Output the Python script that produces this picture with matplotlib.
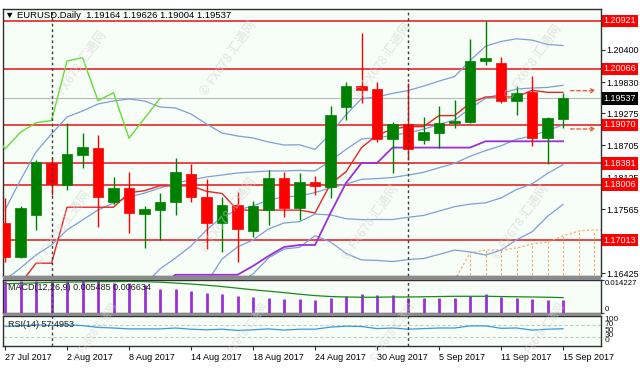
import numpy as np
import matplotlib
matplotlib.use('Agg')
import matplotlib.pyplot as plt
from matplotlib.patches import Rectangle

plt.rcParams['font.family'] = ['Liberation Sans', 'DejaVu Sans']

W, H = 640, 369

# ---- data (EURUSD daily, 27 Jul - 15 Sep 2017) ----
date_labels = ['27 Jul 2017', '2 Aug 2017', '8 Aug 2017', '14 Aug 2017', '18 Aug 2017',
               '24 Aug 2017', '30 Aug 2017', '5 Sep 2017', '11 Sep 2017', '15 Sep 2017']
date_idx = [0, 4, 8, 12, 16, 20, 24, 28, 32, 36]

opens = [1.17317, 1.16716, 1.17464, 1.18384, 1.17998, 1.18531, 1.18661, 1.17690, 1.17939, 1.17481,
         1.17553, 1.17690, 1.18188, 1.17789, 1.17321, 1.17641, 1.17184, 1.17553, 1.18127, 1.17583,
         1.18042, 1.17962, 1.19391, 1.19759, 1.19700, 1.18811, 1.19078, 1.18798, 1.18928, 1.19106,
         1.19124, 1.20209, 1.20163, 1.19498, 1.19658, 1.18829, 1.19164]
highs = [1.17770, 1.17624, 1.18442, 1.18473, 1.19095, 1.18917, 1.18887, 1.18135, 1.18234, 1.17629,
         1.17855, 1.18473, 1.18371, 1.18109, 1.17784, 1.17878, 1.17713, 1.18264, 1.18229, 1.18217,
         1.18158, 1.19403, 1.19836, 1.20697, 1.19836, 1.19124, 1.19812, 1.19213, 1.19403, 1.19510,
         1.20590, 1.20921, 1.20280, 1.19759, 1.19937, 1.19213, 1.19626]
lows = [1.16620, 1.16699, 1.17197, 1.17820, 1.17909, 1.18295, 1.17256, 1.17660, 1.17138, 1.16871,
        1.17019, 1.17464, 1.17695, 1.16853, 1.16805, 1.16628, 1.17072, 1.17286, 1.17428, 1.17375,
        1.17820, 1.17767, 1.19154, 1.19451, 1.18768, 1.18206, 1.18442, 1.18727, 1.18661, 1.19007,
        1.19107, 1.20133, 1.19462, 1.19243, 1.18692, 1.18371, 1.19004]
closes = [1.16720, 1.17588, 1.18401, 1.18010, 1.18544, 1.18679, 1.17789, 1.17939, 1.17494, 1.17570,
          1.17700, 1.18234, 1.17784, 1.17327, 1.17641, 1.17209, 1.17619, 1.18127, 1.17583, 1.18056,
          1.17971, 1.19243, 1.19759, 1.19688, 1.18811, 1.19078, 1.18638, 1.18935, 1.19106, 1.19143,
          1.20204, 1.20263, 1.19498, 1.19640, 1.18829, 1.19184, 1.19537]

# Bollinger bands (20,1) and (20,2)
bb_up2 = [1.17553, 1.18087, 1.18585, 1.18905, 1.19208, 1.19314, 1.19439, 1.19492, 1.19528, 1.19492,
          1.19385, 1.19368, 1.19261, 1.19083, 1.18923, 1.18869, 1.18834, 1.18763, 1.18709, 1.18713,
          1.18631, 1.18908, 1.19248, 1.19532, 1.19567, 1.19627, 1.19678, 1.19757, 1.19846, 1.19927,
          1.20210, 1.20467, 1.20551, 1.20599, 1.20576, 1.20499, 1.20479]
bb_up1 = [1.16307, 1.16521, 1.16752, 1.16930, 1.17197, 1.17375, 1.17553, 1.17677, 1.17784, 1.17855,
          1.17944, 1.18033, 1.18087, 1.18140, 1.18175, 1.18211, 1.18229, 1.18247, 1.18247, 1.18257,
          1.18247, 1.18427, 1.18631, 1.18815, 1.18839, 1.18879, 1.18926, 1.18990, 1.19075, 1.19155,
          1.19359, 1.19538, 1.19623, 1.19705, 1.19723, 1.19734, 1.19772]
bb_mid = [1.15062, 1.14955, 1.14920, 1.14955, 1.15186, 1.15435, 1.15667, 1.15863, 1.16041, 1.16219,
          1.16503, 1.16699, 1.16913, 1.17197, 1.17428, 1.17553, 1.17624, 1.17731, 1.17784, 1.17801,
          1.17863, 1.17946, 1.18014, 1.18098, 1.18111, 1.18131, 1.18174, 1.18223, 1.18304, 1.18383,
          1.18508, 1.18609, 1.18695, 1.18811, 1.18870, 1.18969, 1.19065]
bb_lo1 = [1.13817, 1.13389, 1.13088, 1.12980, 1.13175, 1.13495, 1.13781, 1.14049, 1.14298, 1.14583,
          1.15062, 1.15365, 1.15739, 1.16254, 1.16681, 1.16895, 1.17019, 1.17215, 1.17321, 1.17345,
          1.17479, 1.17465, 1.17397, 1.17381, 1.17383, 1.17383, 1.17422, 1.17456, 1.17533, 1.17611,
          1.17657, 1.17680, 1.17767, 1.17917, 1.18017, 1.18204, 1.18358]
bb_lo2 = [1.12572, 1.11823, 1.11256, 1.11005, 1.11164, 1.11555, 1.11895, 1.12235, 1.12555, 1.12947,
          1.13621, 1.14031, 1.14565, 1.15311, 1.15934, 1.16237, 1.16414, 1.16699, 1.16858, 1.16889,
          1.17095, 1.16984, 1.16780, 1.16664, 1.16655, 1.16635, 1.16670, 1.16689, 1.16762, 1.16839,
          1.16806, 1.16751, 1.16839, 1.17023, 1.17164, 1.17439, 1.17651]

# Ichimoku
tenkan = [1.16100, 1.16240, 1.16606, 1.16606, 1.17602, 1.17602, 1.17602, 1.17602, 1.17858, 1.17897,
          1.17983, 1.17983, 1.17983, 1.17885, 1.17846, 1.17551, 1.17551, 1.17551, 1.17551, 1.17551,
          1.17500, 1.18016, 1.18232, 1.18663, 1.18885, 1.18992, 1.19036, 1.19036, 1.19232, 1.19232,
          1.19452, 1.19564, 1.19564, 1.19564, 1.19682, 1.19646, 1.19646]
kijun = [1.15950, 1.15950, 1.15970, 1.15970, 1.15970, 1.16060, 1.16060, 1.16120, 1.16120, 1.16120,
         1.16200, 1.16400, 1.16400, 1.16400, 1.16400, 1.16400, 1.16556, 1.16734, 1.16894, 1.16930,
         1.16930, 1.17499, 1.18033, 1.18389, 1.18389, 1.18663, 1.18663, 1.18663, 1.18663, 1.18663,
         1.18663, 1.18775, 1.18775, 1.18775, 1.18775, 1.18775, 1.18775]
chikou = [1.19078, 1.18638, 1.18935, 1.19106, 1.19143, 1.20204, 1.20263, 1.19498, 1.19640, 1.18829,
          1.19184, 1.19537]
chikou_start = -1
senkou_a = [1.16303, 1.16787, 1.16840, 1.16840, 1.16876, 1.16947, 1.16983, 1.17090, 1.17179, 1.17197,
            1.17200]
senkou_b = [1.16000, 1.16000, 1.16000, 1.16000, 1.16000, 1.16000, 1.16000, 1.16000, 1.16000, 1.16000,
            1.16000]
senkou_start = 29

levels = [1.20921, 1.20066, 1.19070, 1.18381, 1.18006, 1.17013]
bid = 1.19537
arrow_levels = [1.19675, 1.18994]
price_ticks = [1.20400, 1.19830, 1.19275, 1.18705, 1.18125, 1.17565, 1.16425]

macd = [0.01369, 0.01369, 0.01369, 0.01400, 0.01369, 0.014227, 0.01369, 0.01298, 0.01298, 0.01223,
        0.01031, 0.01031, 0.00969, 0.00854, 0.00809, 0.00734, 0.00676, 0.00631, 0.00587, 0.00587,
        0.00556, 0.00658, 0.00734, 0.00823, 0.00778, 0.00778, 0.00658, 0.00658, 0.00631, 0.00658,
        0.00734, 0.00809, 0.00702, 0.00658, 0.00600, 0.00556, 0.005485]
signal = [0.0126, 0.0128, 0.0130, 0.0132, 0.0133, 0.0134, 0.0135, 0.0135, 0.0136, 0.0135,
          0.0133, 0.0129, 0.0125, 0.0120, 0.0114, 0.0107, 0.0100, 0.0094, 0.0088, 0.0081,
          0.0075, 0.0071, 0.0069, 0.0068, 0.0068, 0.0069, 0.0069, 0.0070, 0.0071, 0.0072,
          0.0072, 0.0072, 0.0071, 0.0070, 0.0069, 0.0068, 0.006634]
rsi = [65, 68, 70, 68, 70, 68, 62, 60, 57, 57, 57, 60, 56, 54, 56, 52, 54, 57, 53, 56,
       56, 63, 66, 65, 58, 60, 56, 58, 60, 60, 67, 67, 59, 60, 53, 56, 57.4953]

# ---- layout ----
fig = plt.figure(figsize=(W / 100, H / 100), dpi=100)
fig.patch.set_facecolor('white')


def px_axes(l, t, r, b):
    return fig.add_axes([l / W, 1 - b / H, (r - l) / W, (b - t) / H])


ax = px_axes(3, 9, 601, 276)
ax_macd = px_axes(3, 280, 601, 313)
ax_rsi = px_axes(3, 316, 601, 346)

bg = '#f7fdf7'
xl = (-0.13, 38.45)
for a in (ax, ax_macd, ax_rsi):
    a.set_facecolor(bg)
    a.set_xlim(*xl)
    for s in a.spines.values():
        s.set_color('#303030')
        s.set_linewidth(1)
    a.tick_params(axis='x', bottom=False, labelbottom=False)
    a.yaxis.tick_right()
    a.tick_params(axis='y', length=3, width=0.8, pad=1, labelsize=6.5, color='#303030')

# grey separators between the windows
for top, bot in [(276, 280), (313, 316)]:
    fig.patches.append(Rectangle((3 / W, 1 - bot / H), 598 / W, (bot - top) / H,
                                 transform=fig.transFigure, fc='#8a8a8a', ec='none', zorder=5))

ax.set_ylim(1.16378, 1.21129)
x = np.arange(len(closes))

# horizontal levels
for lv in levels:
    ax.axhline(lv, color='#e8262a', lw=1.2, zorder=1)
ax.axhline(bid, color='#b8b8b8', lw=0.8, zorder=1)

# Ichimoku cloud (dotted histogram + span A)
sx = np.arange(senkou_start, senkou_start + len(senkou_a))
for xi, a_, b_ in zip(sx, senkou_a, senkou_b):
    ax.plot([xi, xi], [b_, a_], color='#f4a460', lw=0.8, ls=(0, (2, 2)), zorder=2)
ax.plot(sx, senkou_a, color='#f4a460', lw=0.8, ls=(0, (2, 2)), zorder=2)

# Bollinger bands
bb_col = '#7f9fd8'
for band in (bb_up2, bb_up1, bb_mid, bb_lo1, bb_lo2):
    ax.plot(x, band, color=bb_col, lw=0.9, zorder=2)

# Ichimoku lines
ax.plot(x, tenkan, color='#e8262a', lw=1.0, zorder=3)
ax.plot(x, kijun, color='#9b30d9', lw=1.3, zorder=3)
cx = np.arange(chikou_start, chikou_start + len(chikou))
ax.plot(cx, chikou, color='#66dd33', lw=1.0, zorder=3)

# candles
for i in range(len(closes)):
    o, h, l, c = opens[i], highs[i], lows[i], closes[i]
    col = '#008000' if c >= o else '#ff0000'
    ax.plot([i, i], [l, h], color=col, lw=1.0, zorder=4, solid_capstyle='butt')
    body = max(abs(c - o), 0.00006)
    ax.add_patch(Rectangle((i - 0.33, min(o, c)), 0.66, body, fc=col, ec=col, lw=0.5, zorder=5))

# dashed arrows at right edge
for lv in arrow_levels:
    ax.annotate('', xy=(38.3, lv), xytext=(36.3, lv),
                arrowprops=dict(arrowstyle='->', color='#e8502a', lw=0.9, ls=(0, (3, 2)),
                                mutation_scale=7), zorder=6)

# month separators
for a in (ax, ax_macd, ax_rsi):
    for sep in (3, 26):
        a.axvline(sep, color='#404040', lw=1.0, ls=(0, (2, 2)), zorder=6)

# price axis
ax.set_yticks(price_ticks)
ax.set_yticklabels(['%.5f' % t for t in price_ticks])
ytr = ax.get_yaxis_transform()
for lv in levels:
    ax.text(1.004, lv, '%.5f' % lv, transform=ytr, ha='left', va='center', fontsize=6.5,
            color='white', zorder=10, clip_on=False,
            bbox=dict(boxstyle='square,pad=0.18', fc='#ff0000', ec='none'))
ax.text(1.004, bid, '%.5f' % bid, transform=ytr, ha='left', va='center', fontsize=6.5,
        color='white', zorder=10, clip_on=False,
        bbox=dict(boxstyle='square,pad=0.18', fc='black', ec='none'))

ax.text(0.004, 0.975, '\u25bc EURUSD.Daily  1.19164 1.19626 1.19004 1.19537',
        transform=ax.transAxes, ha='left', va='center', fontsize=6.8, color='black',
        family=['Liberation Sans', 'DejaVu Sans'], zorder=10)

# MACD panel
ax_macd.set_ylim(0, 0.014227)
ax_macd.vlines(x, 0, macd, color='#9b30d9', lw=2.0, zorder=3)
ax_macd.plot(x, signal, color='#1a8a1a', lw=0.9, zorder=4)
ax_macd.set_yticks([0, 0.014227])
ax_macd.set_yticklabels(['0', '0.014227'], fontsize=5.6)
ax_macd.tick_params(axis='y', length=2, pad=0.5)
ax_macd.get_yticklabels()[0].set_va('bottom')
ax_macd.get_yticklabels()[1].set_va('top')
ax_macd.text(0.008, 0.78, 'MACD(12,26,9) 0.005485 0.006634', transform=ax_macd.transAxes,
             ha='left', va='center', fontsize=6.5, color='#202020', zorder=10)

# RSI panel
ax_rsi.set_ylim(0, 100)
for lv in (70, 30):
    ax_rsi.axhline(lv, color='#c8c8c8', lw=0.8, ls=(0, (3, 2)), zorder=1)
ax_rsi.plot(x, rsi, color='#3a9ad9', lw=0.9, zorder=3)
ax_rsi.set_yticks([])
rtr = ax_rsi.get_yaxis_transform()
for lab, yv in zip(['100', '70', '50', '30', '0'], [88, 70, 52, 36, 18]):
    ax_rsi.text(1.006, yv, lab, transform=rtr, ha='left', va='center', fontsize=6,
                color='#202020', clip_on=False)
ax_rsi.text(0.008, 0.72, 'RSI(14) 57.4953', transform=ax_rsi.transAxes,
            ha='left', va='center', fontsize=6.5, color='#202020', zorder=10)

# date axis
ax_rsi.set_xticks(date_idx)
ax_rsi.set_xticklabels(date_labels, ha='left')
ax_rsi.tick_params(axis='x', bottom=True, labelbottom=True, length=3, width=0.8,
                   labelsize=6.5, pad=2, color='#303030')

# watermarks
wm = '\u00a9 FX678 \u6c47\u901a\u7f51'
for cxp, cyp, fs in [(78, 68, 9), (228, 58, 9), (383, 60, 9), (533, 62, 9), (62, 228, 9),
                     (228, 215, 9), (370, 222, 9), (520, 222, 9), (95, 332, 7), (245, 332, 7),
                     (392, 332, 7), (542, 332, 7)]:
    fig.text(cxp / W, 1 - cyp / H, wm, rotation=55, ha='center', va='center', fontsize=fs,
             color='#d0d0d0', alpha=0.55, family=['Noto Sans CJK SC', 'DejaVu Sans'], zorder=20)

fig.savefig('out.png', dpi=100, facecolor='white')
